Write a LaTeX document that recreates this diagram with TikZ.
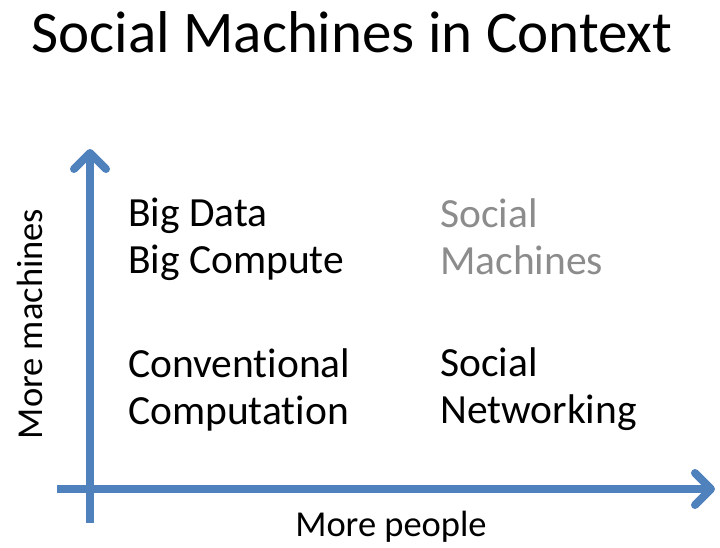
\documentclass[tikz,border=0pt]{standalone}
\usepackage{fontspec}
\setmainfont{Carlito}[Ligatures={NoCommon}]
\usetikzlibrary{arrows.meta}
\definecolor{axisblue}{HTML}{4F81BD}
\definecolor{softgray}{HTML}{8C8C8C}
\begin{document}
\begin{tikzpicture}[x=1pt,y=1pt,
    >={Straight Barb[length=16pt,width=32pt,line cap=round,line join=round]},
    axis/.style={->,line width=8pt,draw=axisblue},
    quad/.style={anchor=base west,inner sep=0pt,align=left,
        font=\fontsize{41.5}{47}\selectfont},
    lbl/.style={anchor=base,inner sep=0pt,font=\fontsize{36.5}{40}\selectfont}]
\useasboundingbox (0,0) rectangle (720,548);
\node[anchor=base,inner sep=0pt,font=\fontsize{59}{64}\selectfont] (title) at (352,495) {Social Machines in Context};
% axes
\coordinate (ybot) at (90,25);
\coordinate (ytop) at (90,399);
\coordinate (xleft) at (57,59);
\coordinate (xright) at (715,59);
\draw[axis](ybot)--(ytop);
\draw[axis](xleft)--(xright);
\node[lbl,rotate=90] (ylabel) at (42,224) {More machines};
\node[lbl] (xlabel) at (391,11) {More people};
% quadrants (base = last line)
\node[quad] (bigdata) at (128,274) {Big Data\\Big Compute};
\node[quad,text=softgray] (socmach) at (440,273) {Social\\Machines};
\node[quad] (conv) at (128,123) {Conventional\\Computation};
\node[quad] (socnet) at (440,124) {Social\\Networking};
\end{tikzpicture}
\end{document}
